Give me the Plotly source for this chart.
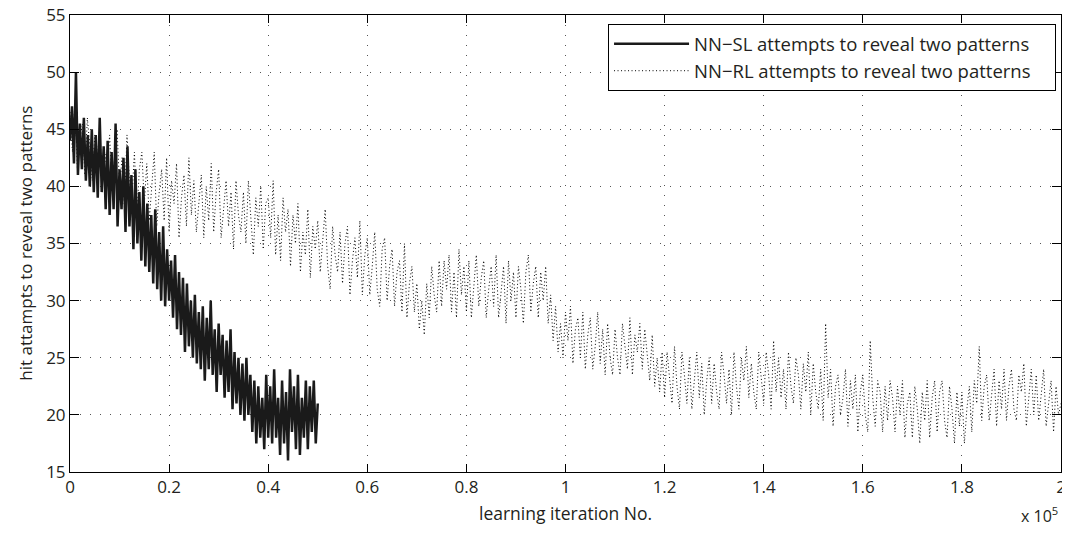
import numpy as np
import plotly.graph_objects as go

# NN-SL: hit attempts per learning iteration (0 .. 50000)
sl_values = [
    44, 47, 42, 50, 41, 45.5, 41.5, 46, 40.5, 44.5, 40, 45, 39.5,
    44.5, 39, 46, 39.5, 43.5, 38, 44, 37.5, 43, 38, 45.5, 36.5, 41.5,
    38, 42.5, 36, 43.5, 36.5, 41, 34.5, 41.5, 35, 39.5, 33.5, 40,
    33, 38.5, 32.5, 37.5, 31.5, 38, 31, 36, 30, 36.5, 29.5, 34.5, 30,
    33.5, 28.5, 34, 27.5, 32.5, 27, 32, 25.5, 31.5, 26, 30, 25,
    30.5, 24.5, 29, 24, 29.5, 23, 28.5, 24, 30, 23.5, 27.5, 22, 28,
    23.5, 27, 21.5, 26.5, 22, 27.5, 20.5, 25.5, 21, 25, 20, 24.5,
    19.5, 25, 20, 23.5, 18.5, 23, 17.5, 22.5, 18, 21.5, 17, 23.5, 18,
    22.5, 17.5, 24, 18, 21.5, 16.5, 23, 17.5, 22, 16,
    24, 18.5, 22.5, 17, 23.5, 16.5, 21.5, 18, 23, 17,
    22.5, 18.5, 23, 17.5, 21,
]
sl_last_iter = 50000

# NN-RL: hit attempts per learning iteration (0 .. 200000)
rl_values = [
    46.5, 43, 47.5, 41.5, 44, 45.5, 41, 46, 43.5, 40.5,
    44.5, 42, 45.5, 40, 43, 41.5, 44.5, 39.5, 42.5, 45,
    40, 42.5, 38, 44.5, 40.5, 39, 43, 37.5, 41.5, 43,
    38.5, 42, 37, 40.5, 43, 36.5, 39.5, 41.5, 37, 42.5,
    36, 40.5, 38.5, 42, 35.5, 39, 41, 36.5, 42.5, 37.5,
    40.5, 36, 38.5, 41, 35.5, 40, 37, 42, 36, 39.5,
    41.5, 35.5, 38, 40.5, 36.5, 39.5, 34.5, 40.5, 37.5, 36,
    39.5, 35, 40.5, 37, 34, 39, 36.5, 40, 34.5, 38.5,
    39, 35.5, 40.5, 34, 37.5, 33.5, 39, 36, 38, 33,
    37.5, 35, 38.5, 32.5, 36, 34, 38, 32, 36.5, 34.5,
    37, 32.5, 35.5, 38, 33, 31, 36.5, 34, 32.5, 36,
    31.5, 35, 36.5, 30.5, 33.5, 35.5, 32, 37, 30.5, 34,
    35.5, 30.5, 33, 36, 31, 29.5, 34.5, 35.5, 30, 33,
    34.5, 29.5, 32.5, 33.5, 29, 35, 28.5, 31.5, 33, 29,
    31.5, 27.5, 30, 27, 31.5, 28.5, 33, 30.5, 29, 33.5,
    29.5, 33.5, 31, 34, 29, 32.5, 28.5, 34.5, 30.5, 33,
    29, 33.5, 28.5, 31.5, 34, 29.5, 32, 33.5, 28.5, 31,
    33, 29.5, 34, 28.5, 31, 33, 28, 33.5, 30, 32.5,
    28.5, 33, 31, 28, 32.5, 34, 29, 31.5, 33, 28.5,
    32.5, 30, 33, 28, 30.5, 26.5, 29.5, 25.5, 28, 25,
    29, 26.5, 29.5, 24.5, 27.5, 28.5, 25, 29, 24, 27,
    28.5, 24, 26, 29, 24.5, 27.5, 23.5, 28, 25, 23.5,
    27.5, 25, 23.5, 28, 26, 24, 28.5, 23.5, 27, 25.5,
    28, 24, 27.5, 25.5, 23, 27, 22.5, 25, 22, 25.5,
    21.5, 25.5, 23, 21, 26, 22.5, 20.5, 25.5, 23.5, 21,
    25, 20.5, 23, 25.5, 21.5, 24.5, 20, 23, 25, 21,
    24.5, 22, 20.5, 25.5, 23.5, 21, 24, 20, 25.5, 22.5,
    20.5, 25, 23, 26, 21.5, 24.5, 22, 20.5, 25.5, 23,
    21, 25.5, 23.5, 20.5, 26.5, 22, 25, 21.5, 24, 20.5,
    25.5, 22.5, 21, 25, 23.5, 20.5, 24.5, 22, 25.5, 20,
    24.5, 22, 20.5, 24, 19.5, 28, 21.5, 24, 19, 22.5,
    23.5, 20, 21.5, 24, 19, 23, 20.5, 23.5, 18.5, 22,
    23.5, 20, 18.5, 26.5, 21.5, 19, 23, 22, 18.5, 22.5,
    19.5, 23, 21.5, 18.5, 22.5, 20, 23, 18, 21, 22,
    18, 22.5, 20.5, 17.5, 22, 19.5, 23, 18, 21.5, 23,
    18.5, 22, 23, 19.5, 18, 22.5, 20.5, 17.5, 22, 19,
    22, 17.5, 20.5, 22.5, 18.5, 23, 21, 26, 19.5, 22.5,
    23.5, 19.5, 21.5, 24, 19, 23, 20.5, 24, 19.5, 22.5,
    24, 20.5, 19.5, 23.5, 22, 24.5, 19, 21.5, 24, 20,
    23.5, 19.5, 22, 24, 19, 21, 23, 18.5, 22.5, 20,
    21,
]
rl_last_iter = 200000

x_tickvals = [0, 20000, 40000, 60000, 80000, 100000, 120000, 140000, 160000, 180000, 200000]
x_ticktext = ["0", "0.2", "0.4", "0.6", "0.8", "1", "1.2", "1.4", "1.6", "1.8", "2"]
y_tickvals = [15, 20, 25, 30, 35, 40, 45, 50, 55]

sl_x = np.linspace(0, sl_last_iter, len(sl_values))
rl_x = np.linspace(0, rl_last_iter, len(rl_values))

FONT = "Open Sans"
TXT = "#231f20"
PAD = "\u00a0\u00a0\u00a0\u00a0"

fig = go.Figure()
fig.add_trace(go.Scatter(
    x=rl_x, y=rl_values, mode="lines",
    line=dict(color="#000000", width=1, dash="1px,2.5px"),
    name="NN\u2212RL attempts to reveal two patterns" + PAD,
))
fig.add_trace(go.Scatter(
    x=sl_x, y=sl_values, mode="lines",
    line=dict(color="#1a1a1a", width=2.5),
    name="NN\u2212SL attempts to reveal two patterns" + PAD,
))

axis_common = dict(
    showline=True, linecolor="#000000", linewidth=1, mirror="ticks",
    ticks="inside", tickcolor="#000000", tickwidth=1,
    showgrid=True, gridcolor="#555555", gridwidth=1, griddash="1px,9px",
    zeroline=False, automargin=False, ticklabeloverflow="allow",
    tickfont=dict(family=FONT, size=17, color=TXT),
)

# the page body adds an 8px offset; the figure is sized to fit the window
fig.update_layout(
    width=1062, height=522,
    margin=dict(l=62, r=9, t=7, b=58),
    paper_bgcolor="white", plot_bgcolor="white",
    font=dict(family=FONT, size=17, color=TXT),
    showlegend=True,
    legend=dict(
        x=0.995, y=0.98, xanchor="right", yanchor="top",
        bgcolor="white", bordercolor="#000000", borderwidth=1,
        font=dict(family=FONT, size=18.5, color=TXT),
        traceorder="reversed",
        itemwidth=75,
        tracegroupgap=0,
    ),
    xaxis=dict(range=[0, 200000], tickvals=x_tickvals, ticktext=x_ticktext,
               ticklen=8, **axis_common),
    yaxis=dict(range=[15, 55], tickvals=y_tickvals, ticklen=9, **axis_common),
)

fig.add_annotation(
    text="learning iteration No.", xref="paper", yref="paper",
    x=0.5, y=-0.09, xanchor="center", yanchor="middle", showarrow=False,
    font=dict(family=FONT, size=17.5, color=TXT),
)
fig.add_annotation(
    text="hit attampts to reveal two patterns", xref="paper", yref="paper",
    x=-0.0452, y=0.5, xanchor="center", yanchor="middle", textangle=-90,
    showarrow=False, font=dict(family=FONT, size=17, color=TXT),
)
fig.add_annotation(
    text="x 10<sup>5</sup>", xref="paper", yref="paper",
    x=0.999, y=-0.124, xanchor="right", yanchor="bottom", showarrow=False,
    font=dict(family=FONT, size=16, color=TXT),
)

fig.write_html("out.html")
